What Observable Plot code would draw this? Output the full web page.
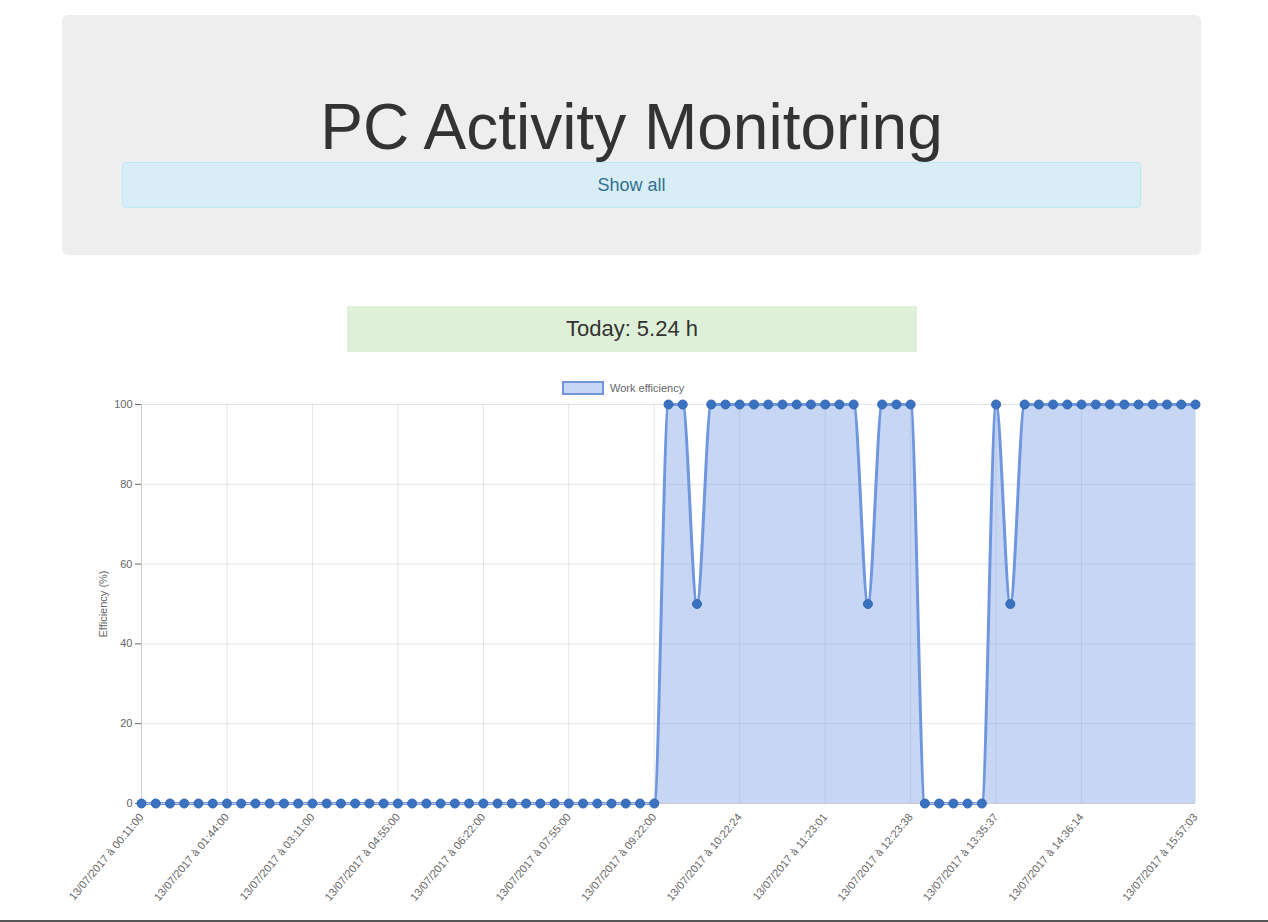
<!DOCTYPE html>
<html><head><meta charset="utf-8">
<script src="https://cdn.jsdelivr.net/npm/d3@7"></script>
<script src="https://cdn.jsdelivr.net/npm/@observablehq/plot@0.6"></script>
<style>
body{margin:0;font-family:"Liberation Sans",Arial,sans-serif;color:#333;background:#fff;width:1268px;height:922px;position:relative;overflow:hidden}
.jumbo{position:absolute;left:62px;top:15px;width:1139px;height:240px;background:#eee;border-radius:6px}
.jumbo h1{margin:0;position:absolute;top:80px;width:100%;text-align:center;font-weight:400;font-size:64px;line-height:1}
.btn{position:absolute;left:60px;top:147px;width:1017px;height:44px;background:#d9edf7;border:1px solid #bce8f1;border-radius:4px;text-align:center;line-height:44px;font-size:18px;color:#31708f}
.today{position:absolute;left:347px;top:306px;width:570px;height:46px;background:#dff0d8;text-align:center;line-height:46px;font-size:22px}
.legend{position:absolute;top:381px;left:562px;font-size:11px;color:#666;display:flex;align-items:center}
.legend span{display:inline-block;width:38px;height:10px;background:rgba(114,152,224,0.4);border:2px solid #6f96df;margin-right:6px}
#chart{position:absolute;left:0;top:395px}
.line{position:absolute;left:0;top:920px;width:1268px;height:2px;background:#555}
</style></head><body>
<div class="jumbo"><h1>PC Activity Monitoring</h1><div class="btn">Show all</div></div>
<div class="today">Today: 5.24 h</div>
<div class="legend"><span></span>Work efficiency</div>
<div id="chart"></div>
<div class="line"></div>
<script>
const efficiency = [
  0,0,0,0,0,0,0,0,0,0, 0,0,0,0,0,0,0,0,0,0, 0,0,0,0,0,0,0,0,0,0, 0,0,0,0,0,0,0,
  100,100,50,
  100,100,100,100,100,100,100,100,100,100,100,
  50,100,100,100,
  0,0,0,0,0,
  100,50,
  100,100,100,100,100,100,100,100,100,100,100,100,100
];
const tickIndex = [0,6,12,18,24,30,36,42,48,54,60,66,74];
const tickLabels = ["13/07/2017 à 00:11:00","13/07/2017 à 01:44:00","13/07/2017 à 03:11:00","13/07/2017 à 04:55:00","13/07/2017 à 06:22:00","13/07/2017 à 07:55:00","13/07/2017 à 09:22:00","13/07/2017 à 10:22:24","13/07/2017 à 11:23:01","13/07/2017 à 12:23:38","13/07/2017 à 13:35:37","13/07/2017 à 14:36:14","13/07/2017 à 15:57:03"];
const data = efficiency.map((v, i) => ({i, v}));
const labelOf = new Map(tickIndex.map((t, k) => [t, tickLabels[k]]));

const chart = Plot.plot({
  width: 1268, height: 520,
  marginLeft: 141, marginRight: 73, marginTop: 9, marginBottom: 112,
  style: {fontFamily: "Liberation Sans, Arial, sans-serif", fontSize: "11px", color: "#666"},
  x: {domain: [0, efficiency.length - 1], ticks: tickIndex, tickFormat: d => labelOf.get(d), tickRotate: -50, tickSize: 0, label: null},
  y: {domain: [0, 100], ticks: [0,20,40,60,80,100], tickSize: 6, label: "Efficiency (%)", labelAnchor: "center", labelArrow: "none", labelOffset: 42},
  marks: [
    Plot.gridX(tickIndex, {stroke: "#000", strokeOpacity: 0.1}),
    Plot.gridY([0,20,40,60,80,100], {stroke: "#000", strokeOpacity: 0.1}),
    Plot.areaY(data, {x: "i", y: "v", fill: "rgba(114,152,224,0.4)", curve: "monotone-x"}),
    Plot.lineY(data, {x: "i", y: "v", stroke: "#6f96df", strokeWidth: 3, curve: "monotone-x"}),
    Plot.ruleX([0], {stroke: "#ccc"}),
    Plot.ruleY([0], {stroke: "#ccc"}),
    Plot.dot(data, {x: "i", y: "v", r: 4.5, fill: "#3a72c0", stroke: "#3468b3", strokeWidth: 1})
  ]
});
document.getElementById("chart").append(chart);
</script>
</body></html>
